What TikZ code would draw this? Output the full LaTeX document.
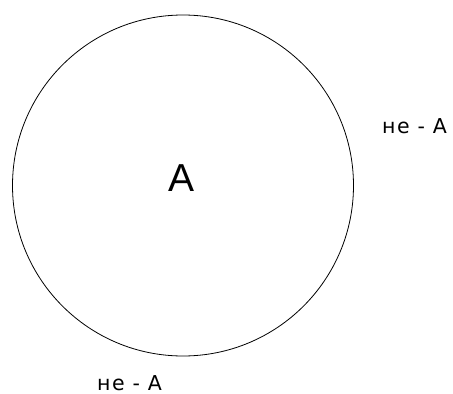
\documentclass[tikz,border=0pt]{standalone}
\usepackage{fontspec}
\setmainfont{Liberation Sans}
\newfontfamily\labelfont[LetterSpace=7]{DejaVu Sans}
\usetikzlibrary{positioning}

\begin{document}
\begin{tikzpicture}[x=1pt,y=-1pt,line cap=round,line join=round,
  setlabel/.style={font=\labelfont\fontsize{20.5}{24}\selectfont,inner sep=0pt,anchor=base west}]
\useasboundingbox (0,0) rectangle (453,394);
% the set A
\node[draw,circle,line width=0.8pt,minimum size=341pt,inner sep=0pt] (setA) at (183,185.5) {};
\node[font=\fontsize{39}{44}\selectfont,inner sep=0pt,anchor=base] (labA) at (182,191) {А};
% complement labels
\node[setlabel] (notA1) at (382,133) {не - А};
\node[setlabel] (notA2) at (97,390) {не - А};
\end{tikzpicture}
\end{document}
